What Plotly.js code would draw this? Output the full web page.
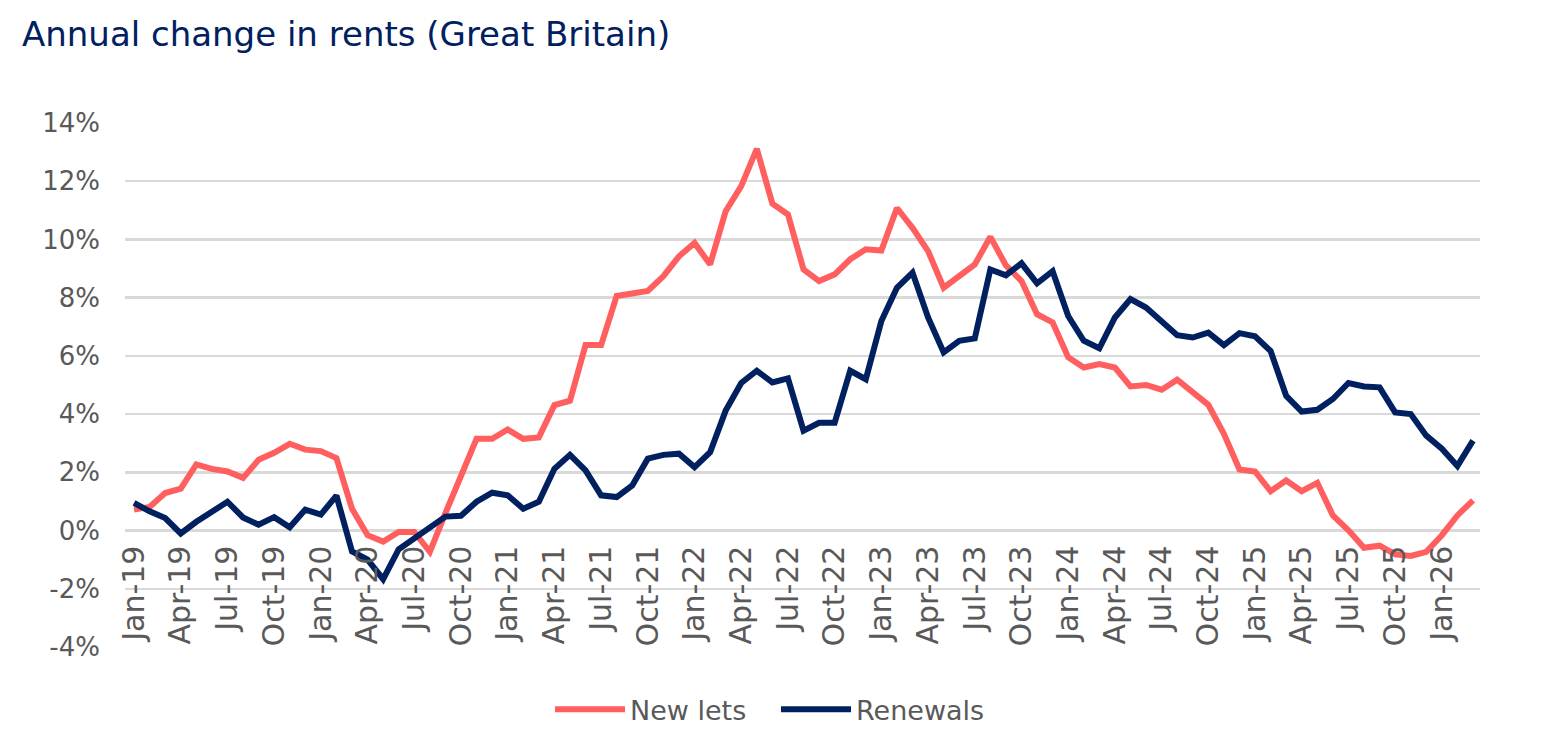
<!DOCTYPE html>
<html>
<head>
<meta charset="utf-8">
<script src="https://cdn.plot.ly/plotly-3.0.1.min.js"></script>
<style>html,body{margin:0;padding:0;background:#fff;}#chart{width:1546px;height:746px;}</style>
</head>
<body>
<div id="chart"></div>
<script>
// Month names and years for the category axis (Jan-19 ... Mar-26)
var monthNames = ['Jan','Feb','Mar','Apr','May','Jun','Jul','Aug','Sep','Oct','Nov','Dec'];
var years = ['19','20','21','22','23','24','25','26'];
var months = [];
for (var y = 0; y < years.length; y++) {
  for (var m = 0; m < 12; m++) {
    if (years[y] === '26' && m > 2) break;
    months.push(monthNames[m] + '-' + years[y]);
  }
}

// Annual change in rents, %
var newLets = [
  0.72, 0.81, 1.29, 1.44, 2.27, 2.12, 2.03, 1.81, 2.43, 2.67, 2.98, 2.78,
  2.73, 2.49, 0.75, -0.16, -0.38, -0.05, -0.05, -0.73, 0.6, 1.85, 3.15, 3.15,
  3.47, 3.15, 3.2, 4.31, 4.46, 6.37, 6.37, 8.06, 8.17, 8.23, 8.74, 9.42,
  9.88, 9.14, 10.97, 11.83, 13.11, 11.23, 10.86, 8.97, 8.57, 8.8, 9.32, 9.66,
  9.62, 11.08, 10.4, 9.6, 8.34, 8.72, 9.14, 10.09, 9.11, 8.57, 7.43, 7.15,
  5.95, 5.6, 5.72, 5.6, 4.95, 5.0, 4.84, 5.18, 4.75, 4.32, 3.32, 2.1,
  2.03, 1.35, 1.72, 1.35, 1.64, 0.52, 0.01, -0.59, -0.52, -0.82, -0.87, -0.73,
  -0.16, 0.52, 1.04
];
var renewals = [
  0.95, 0.66, 0.43, -0.1, 0.3, 0.64, 0.99, 0.45, 0.2, 0.46, 0.11, 0.72,
  0.55, 1.2, -0.72, -1.0, -1.67, -0.64, -0.27, 0.1, 0.48, 0.51, 0.99, 1.3,
  1.21, 0.75, 0.99, 2.12, 2.6, 2.07, 1.21, 1.15, 1.55, 2.47, 2.6, 2.64,
  2.18, 2.69, 4.12, 5.07, 5.49, 5.09, 5.23, 3.43, 3.7, 3.7, 5.49, 5.2,
  7.2, 8.34, 8.86, 7.32, 6.12, 6.52, 6.6, 8.97, 8.77, 9.18, 8.49, 8.91,
  7.37, 6.52, 6.26, 7.32, 7.95, 7.66, 7.15, 6.71, 6.63, 6.8, 6.37, 6.78,
  6.67, 6.17, 4.63, 4.09, 4.15, 4.52, 5.07, 4.95, 4.92, 4.06, 4.0, 3.26,
  2.81, 2.22, 3.09
];

var yTickVals = [-4, -2, 0, 2, 4, 6, 8, 10, 12, 14];
var yTickText = ['-4%', '-2%', '0%', '2%', '4%', '6%', '8%', '10%', '12%', '14%'];
var xTickVals = months.filter(function (d, i) { return i % 3 === 0; });

var FONT = 'DejaVu Sans, sans-serif';
var traces = [
  {x: months, y: newLets, type: 'scatter', mode: 'lines', name: 'New lets',
   line: {color: '#FF5F5F', width: 6}},
  {x: months, y: renewals, type: 'scatter', mode: 'lines', name: 'Renewals',
   line: {color: '#002060', width: 6}}
];

var layout = {
  width: 1546, height: 746,
  margin: {l: 125, r: 66, t: 123, b: 97},
  paper_bgcolor: '#ffffff', plot_bgcolor: '#ffffff',
  font: {family: FONT, color: '#595959'},
  title: {text: 'Annual change in rents (Great Britain)', x: 22 / 1546, xanchor: 'left',
          xref: 'container', y: 1 - 34 / 746, yanchor: 'middle', yref: 'container',
          font: {family: FONT, size: 34, color: '#002060'}},
  xaxis: {type: 'category', range: [-0.58, 86.45], anchor: 'free', position: 4 / 18,
          tickmode: 'array', tickvals: xTickVals, ticktext: xTickVals, tickangle: -90,
          showgrid: false, zeroline: false, showline: false, ticks: '',
          ticklabelstandoff: 8,
          tickfont: {family: FONT, size: 30, color: '#595959'}},
  yaxis: {range: [-4, 14], tickmode: 'array', tickvals: yTickVals, ticktext: yTickText,
          showgrid: true, gridcolor: '#d9d9d9', gridwidth: 2.5, zeroline: false,
          showline: false, ticks: '', ticklabelstandoff: 24,
          tickfont: {family: FONT, size: 26, color: '#595959'}},
  legend: {orientation: 'h', x: (550 - 125) / 1355, xanchor: 'left', y: -(712 - 649) / 526, yanchor: 'middle',
           font: {family: FONT, size: 27, color: '#595959'}, itemwidth: 70,
           entrywidth: 141, entrywidthmode: 'pixels'},
  showlegend: true
};

Plotly.newPlot('chart', traces, layout, {displayModeBar: false, staticPlot: true});
</script>
</body>
</html>
